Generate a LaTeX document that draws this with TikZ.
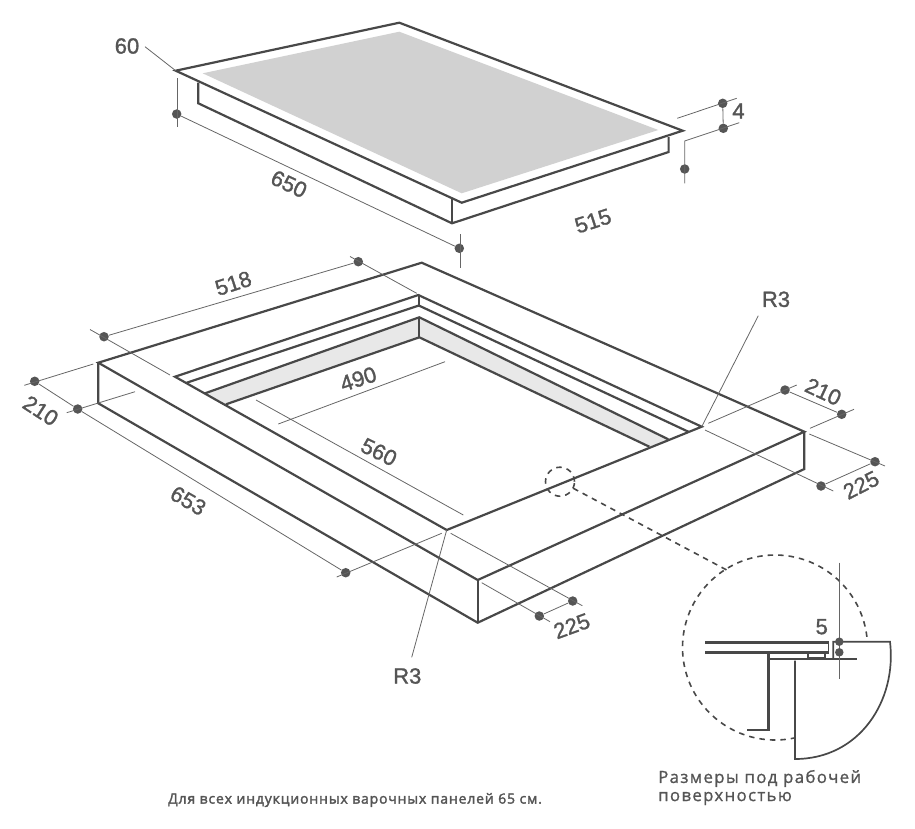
\documentclass[tikz,border=0pt]{standalone}
\usepackage{fontspec}
\setmainfont[FakeBold=1.3]{Liberation Sans}
\newfontfamily\capfont[LetterSpace=8,FakeBold=1.1]{Open Sans}
\newfontfamily\capboldfont[LetterSpace=6,FakeBold=2.2]{Open Sans}
\definecolor{ink}{HTML}{484848}
\definecolor{thin}{HTML}{666666}
\definecolor{txt}{HTML}{555555}
\tikzset{
  heavy/.style={draw=ink,line width=2.2pt,line join=miter},
  fine/.style={draw=thin,line width=0.8pt},
  dimdot/.style={circle,fill=txt,inner sep=0pt,minimum size=9.5pt},
  num/.style={text=txt,font=\fontsize{22}{22}\selectfont,inner sep=0pt},
  capt/.style={text=txt,inner sep=0pt,anchor=west},
  dashline/.style={draw=ink,line width=1.6pt,dash pattern=on 5.5pt off 5pt}
}
\begin{document}
\begin{tikzpicture}[x=1pt,y=-1pt]
\useasboundingbox (0,0) rectangle (915,828);
% ---------- hob
\coordinate (hL) at (175.7,70.7);
\coordinate (hT) at (399.3,22.7);
\coordinate (hR) at (682.7,130.7);
\coordinate (hB) at (461.7,202.7);
\fill[fill=black!18] (202.7,73.3) -- (399.3,31.7) -- (658.3,130) -- (461.7,193.3) -- cycle;
\draw[heavy] (hL) -- (hT) -- (hR) -- (hB) -- cycle;
\draw[heavy] (198.3,82.7) -- (198.3,103.3) -- (452,223.3) -- (668.6,152) -- (668.6,137);
\draw[heavy] (452,198) -- (452,223.3);
% hob dimensions
\node[dimdot] (d1) at (176.7,114) {};
\node[dimdot] (d2) at (459.3,248.3) {};
\node[dimdot] (d3) at (722.7,103.3) {};
\node[dimdot] (d4) at (723.3,128.3) {};
\node[dimdot] (d5) at (684.7,169) {};
\coordinate (e60) at (145,46.7);
\draw[fine] (e60) -- (hL);
\draw[fine] (177.3,78.3) -- (177.3,127.3);
\draw[fine] (d1) -- (d2);
\draw[fine] (460.3,234) -- (460.3,268);
\draw[fine] (677.3,118.3) -- (736.7,98.3);
\draw[fine] (739.3,122.7) -- (684.7,141) -- (684.7,183.3);
\draw[fine] (d3) -- (d4);
\node[num] (t60) at (127,46) {60};
\node[num,rotate=-25] (t650) at (289,184) {650};
\node[num,rotate=18] (t515) at (593,221) {515};
\node[num] (t4) at (738.5,111) {4};
% ---------- cut-out
\coordinate (fT) at (421.7,262.7);
\coordinate (fL) at (98.3,362.7);
\coordinate (fF) at (477.7,580);
\coordinate (fR) at (804.3,431.7);
\coordinate (fLb) at (98.3,403.3);
\coordinate (fFb) at (477.7,622.7);
\coordinate (fRb) at (804.3,469);
\coordinate (iL) at (175,376.7);
\coordinate (iT) at (418.3,295);
\coordinate (iF) at (446.7,530);
\coordinate (iR) at (701.7,426.7);
\fill[fill=black!9] (205,393.3) -- (419.3,317.3) -- (668.3,439.3) -- (649.3,446.7) -- (419.3,337.3) -- (226,404.3) -- cycle;
\draw[heavy] (fL) -- (fT) -- (fR) -- (fF) -- cycle;
\draw[heavy] (fL) -- (fLb) -- (fFb) -- (fRb) -- (fR);
\draw[heavy] (fF) -- (fFb);
\draw[heavy] (iR) -- (iT) -- (iL) -- (iF) -- cycle;
\draw[heavy] (186.7,382.7) -- (418.8,305.5) -- (688.3,431.7);
\draw[heavy] (205,393.3) -- (419.3,317.3) -- (668.3,439.3);
\draw[heavy] (226,404.3) -- (419.3,337.3) -- (649.3,446.7);
\draw[heavy] (418.6,295) -- (418.6,305.5);
\draw[heavy] (419.3,317.3) -- (419.3,337.3);
% cut-out dimensions
\node[dimdot] (a1) at (104,336.7) {};
\node[dimdot] (a2) at (358.3,261.7) {};
\node[dimdot] (b1) at (34.7,381.3) {};
\node[dimdot] (b2) at (77.7,409) {};
\node[dimdot] (c1) at (345.7,572.7) {};
\node[dimdot] (g1) at (572.7,601) {};
\node[dimdot] (g2) at (539.3,616) {};
\node[dimdot] (h1) at (785,390) {};
\node[dimdot] (h2) at (841.7,414.3) {};
\node[dimdot] (k1) at (875,461.7) {};
\node[dimdot] (k2) at (821,486) {};
\draw[fine] (a1) -- (a2);
\draw[fine] (90,329.5) -- (170,375);
\draw[fine] (350,256.5) -- (416.7,293.3);
\draw[fine] (b1) -- (b2);
\draw[fine] (24.3,385.3) -- (93.3,364);
\draw[fine] (66.7,412.7) -- (135,391.7);
\draw[fine] (b2) -- (c1);
\draw[fine] (336.7,577) -- (441.7,533.3);
\draw[fine] (278.3,424) -- (445,361.7);
\draw[fine] (256,400) -- (463.3,515);
\draw[fine] (g1) -- (g2);
\draw[fine] (450.7,533.3) -- (582.3,605.7);
\draw[fine] (481.7,582.7) -- (550,621.7);
\draw[fine] (iF) -- (411.7,657.3);
\draw[fine] (iR) -- (758.3,315.7);
\draw[fine] (h1) -- (h2);
\draw[fine] (708.3,423.3) -- (796.7,385);
\draw[fine] (810,428.3) -- (854,409.3);
\draw[fine] (k1) -- (k2);
\draw[fine] (809.3,434) -- (885,466);
\draw[fine] (705,430) -- (833.3,491);
\node[num,rotate=18] (t518) at (233.3,283.3) {518};
\node[num,rotate=-33] (t210a) at (40.7,410.7) {210};
\node[num,rotate=-30] (t653) at (188.3,500.7) {653};
\node[num,rotate=18] (t490) at (358.3,379) {490};
\node[num,rotate=-26] (t560) at (379,452) {560};
\node[num,rotate=20] (t225a) at (571.7,626) {225};
\node[num,rotate=-25] (t210b) at (823.3,391.7) {210};
\node[num,rotate=27] (t225b) at (861,485) {225};
\node[num] (r3a) at (407.3,676) {R3};
\node[num] (r3b) at (776,299.3) {R3};
% ---------- detail circle
\node[circle,dashline,minimum size=29pt,inner sep=0pt] (small) at (560,481.7) {};
\coordinate (bigc) at (726.7,570);
\draw[dashline] (573.3,488.3) -- (bigc);
\draw[dashline] plot[domain=6.6:282.4,samples=120,smooth] ({775+92.5*cos(\x)},{647.5-92.5*sin(\x)});
% ---------- detail section
\draw[draw=ink,line width=2.8pt] (705,642.3) -- (829,642.3) (705,652.3) -- (829,652.3);
\draw[draw=ink,line width=1.5pt] (828.3,642.3) -- (828.3,652.3);
\draw[draw=ink,line width=1.7pt] (833.3,658.3) -- (833.3,641.7) -- (890,641.7) .. controls (897,700) and (860,759) .. (795,759) -- (795,660.7);
\draw[draw=ink,line width=2pt] (768.3,659) -- (856.7,659);
\draw[draw=ink,line width=2.5pt] (768.3,652.3) -- (768.3,730) -- (747.3,730);
\draw[draw=ink,line width=1.2pt] (808,652.3) -- (808,657.5) -- (825,657.5) -- (825,652.3);
\draw[fine] (839.3,562.7) -- (839.3,679);
\node[dimdot,minimum size=8.5pt] (m1) at (839.3,641.7) {};
\node[dimdot,minimum size=8.5pt] (m2) at (839.3,652.3) {};
\node[num] (t5) at (821.7,626.7) {5};
% ---------- captions
\node[capt,font=\capfont\fontsize{16.8}{16.8}\selectfont] (cap1) at (658,778.5) {Размеры под рабочей};
\node[capt,font=\capfont\fontsize{16.8}{16.8}\selectfont] (cap2) at (658,798.5) {поверхностью};
\node[capt,font=\capboldfont\fontsize{14}{14}\selectfont] (cap3) at (168,800) {Для всех индукционных варочных панелей 65 см.};
\end{tikzpicture}
\end{document}
